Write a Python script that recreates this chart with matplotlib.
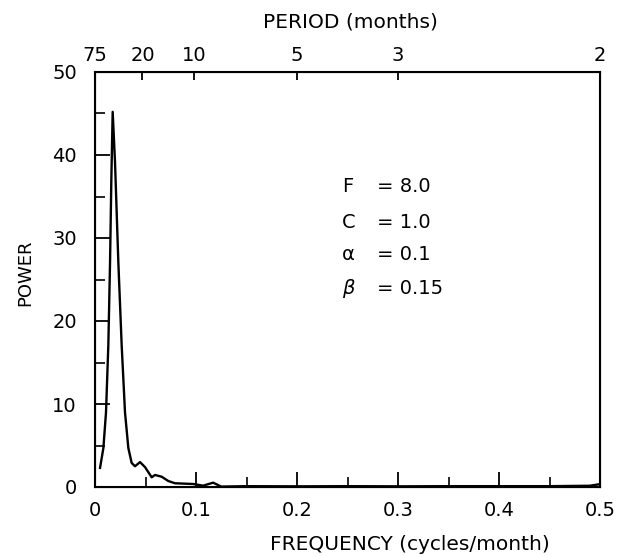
import matplotlib
matplotlib.use("Agg")
import matplotlib.pyplot as plt
from matplotlib.ticker import MultipleLocator, FuncFormatter

# ---------------------------------------------------------------------------
# Data
# ---------------------------------------------------------------------------
freq = [0.005, 0.0083, 0.0109, 0.0132, 0.0149, 0.0162, 0.0175, 0.0198,
        0.0231, 0.0264, 0.0297, 0.033, 0.0363, 0.0396, 0.0446, 0.0495,
        0.0538, 0.0561, 0.0594, 0.066, 0.0726, 0.0792, 0.0974, 0.107,
        0.117, 0.125, 0.15, 0.2, 0.25, 0.3, 0.35, 0.4, 0.45, 0.49, 0.5]
power = [2.3, 4.7, 9.0, 17.1, 27.1, 37.2, 45.2, 39.2,
         27.1, 17.1, 9.0, 4.7, 2.9, 2.5, 3.0, 2.4,
         1.6, 1.17, 1.45, 1.24, 0.72, 0.45, 0.36, 0.16,
         0.52, 0.05, 0.1, 0.08, 0.1, 0.08, 0.1, 0.1, 0.1, 0.15, 0.35]

period_tick_freq = [0.0, 0.047, 0.098, 0.2, 0.3, 0.5]
period_tick_labels = ["75", "20", "10", "5", "3", "2"]

params = [("F", "= 8.0"), ("C", "= 1.0"), ("\u03b1", "= 0.1"),
          (r"$\beta$", "= 0.15")]

# ---------------------------------------------------------------------------
W, H = 619, 557
fig = plt.figure(figsize=(W / 100, H / 100), dpi=100)
L, R, B, T = 95, 600, 487, 72
ax = fig.add_axes([L / W, 1 - B / H, (R - L) / W, (B - T) / H])

ax.plot(freq, power, color="black", linewidth=1.7)
ax.set_xlim(0, 0.5)
ax.set_ylim(0, 50)

ax.xaxis.set_major_locator(MultipleLocator(0.1))
ax.xaxis.set_minor_locator(MultipleLocator(0.05))
ax.yaxis.set_major_locator(MultipleLocator(10))
ax.yaxis.set_minor_locator(MultipleLocator(5))
ax.xaxis.set_major_formatter(FuncFormatter(
    lambda v, p: "0" if abs(v) < 1e-9 else f"{v:.1f}"))

ax.tick_params(which="major", direction="in", length=11, width=1.3,
               labelsize=14)
ax.tick_params(axis="x", which="major", pad=10)
ax.tick_params(axis="y", which="major", pad=13)
ax.tick_params(which="minor", direction="in", length=7, width=1.2)
for s in ax.spines.values():
    s.set_linewidth(1.5)

top = ax.twiny()
top.set_xlim(0, 0.5)
top.set_xticks(period_tick_freq)
top.set_xticklabels(period_tick_labels)
top.tick_params(direction="in", length=6, width=1.3, labelsize=14, pad=5)

# parameter block
ys = [186, 222, 255, 289]
for (sym, val), y in zip(params, ys):
    fy = 1 - y / H
    fig.text(342 / W, fy, sym, fontsize=14, va="center", ha="left")
    fig.text(377 / W, fy, val, fontsize=14, va="center", ha="left")

fig.text(410 / W, 1 - 545 / H, "FREQUENCY (cycles/month)", fontsize=14.5,
         ha="center", va="center")
fig.text(350 / W, 1 - 22 / H, "PERIOD (months)", fontsize=14.5,
         ha="center", va="center")
fig.text(25 / W, 1 - 273 / H, "POWER", fontsize=13, rotation=90,
         ha="center", va="center")

fig.savefig("out.png", dpi=100)
